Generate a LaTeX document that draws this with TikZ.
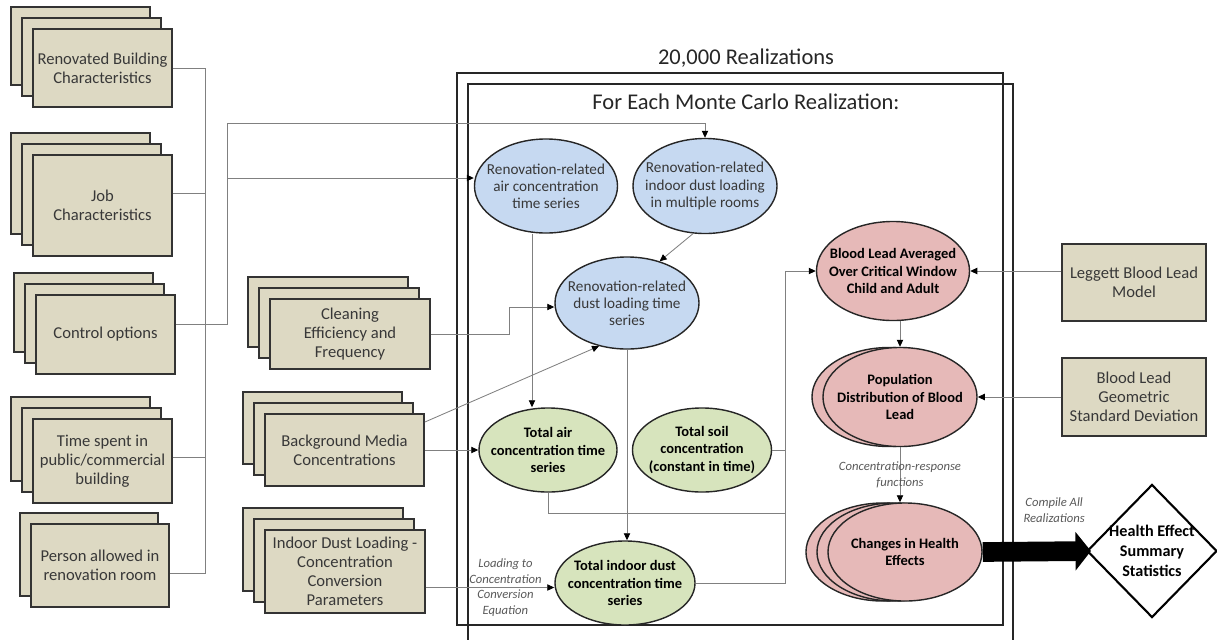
\documentclass[tikz,border=0pt]{standalone}
\usepackage{fontspec}
\setmainfont{Carlito}
\usetikzlibrary{arrows.meta, positioning, shapes.geometric, shadows}

\definecolor{boxTan}{RGB}{221,217,195}
\definecolor{renBlue}{RGB}{198,217,241}
\definecolor{totGreen}{RGB}{215,228,189}
\definecolor{bloodPink}{RGB}{230,185,184}
\definecolor{textGray}{RGB}{56,56,56}

\begin{document}
\begin{tikzpicture}[
    x=0.025cm, y=-0.025cm,
    % Input boxes: tan fill, dark outline
    inputBox/.style={
        draw=black!80, line width=1pt,
        fill=boxTan, text=textGray,
        align=center, inner sep=2pt,
        font=\fontsize{11.8}{13.6}\selectfont
    },
    % Stacked copies behind a box (up and to the left)
    boxStack3/.style={double copy shadow={shadow xshift=-0.275cm, shadow yshift=0.275cm}},
    boxStack2/.style={copy shadow={shadow xshift=-0.275cm, shadow yshift=0.275cm}},
    ovalStack2/.style={copy shadow={shadow xshift=-0.275cm, shadow yshift=0cm}},
    ovalStack3/.style={double copy shadow={shadow xshift=-0.275cm, shadow yshift=0cm}},
    % Ellipses inside the realization frame
    stepOval/.style={
        ellipse, draw=black!85, line width=1pt,
        align=center, inner xsep=-0.4cm, inner ysep=0pt
    },
    renOval/.style={stepOval, fill=renBlue, text=textGray,
        font=\fontsize{10.8}{12.2}\selectfont},
    totOval/.style={stepOval, fill=totGreen,
        font=\fontsize{10.3}{12.4}\selectfont\bfseries},
    bloodOval/.style={stepOval, fill=bloodPink,
        font=\fontsize{10.3}{12.4}\selectfont\bfseries},
    % Plain italic labels on connectors
    noteStyle/.style={
        align=center, text=black!65,
        font=\fontsize{9}{11}\selectfont\itshape
    },
    titleStyle/.style={text=black!85, font=\fontsize{16}{19}\selectfont},
    frameStyle/.style={draw=black!85, line width=1.2pt},
    % Connectors: thin gray lines, small black heads
    link/.style={draw=black!50, line width=0.6pt},
    arr/.style={link, -{Triangle[length=5pt,width=4.5pt,color=black]}},
    bigArrow/.style={draw=black, line width=14pt,
        -{Triangle[length=11pt,width=27pt]}}
]
\useasboundingbox (0,0) rectangle (1217,639);

%--- Realization frames ---
\draw[frameStyle] (457,73) rectangle (1003,625);
\draw[frameStyle] (468,640) |- (1013,84) -- (1013,640);
\node[titleStyle] (allRuns) at (746,58)  {20,000 Realizations};
\node[titleStyle] (oneRun)  at (746,102) {For Each Monte Carlo Realization:};

%--- Left column of inputs ---
\node[inputBox, boxStack3, minimum width=3.475cm, minimum height=1.95cm]
    (renov) at (102.5,68) {Renovated Building\\Characteristics};
\node[inputBox, boxStack3, minimum width=3.475cm, minimum height=2.525cm]
    (job) at (102.5,205.5) {Job\\Characteristics};
\node[inputBox, boxStack3, minimum width=3.475cm, minimum height=1.975cm]
    (control) at (105.5,334.5) {Control options};
\node[inputBox, boxStack3, minimum width=3.475cm, minimum height=2.1cm]
    (timespent) at (102.5,461) {Time spent in\\public/commercial\\building};
\node[inputBox, boxStack2, minimum width=3.45cm, minimum height=2.075cm]
    (person) at (100,565.5) {Person allowed in\\renovation room};

%--- Middle column of inputs ---
\node[inputBox, boxStack3, minimum width=4cm, minimum height=1.75cm]
    (cleaning) at (350,334) {Cleaning\\Efficiency and\\Frequency};
\node[inputBox, boxStack3, minimum width=3.975cm, minimum height=1.8cm]
    (background) at (344.5,450) {Background Media\\Concentrations};
\node[inputBox, boxStack3, minimum width=4cm, minimum height=2.075cm]
    (dustconv) at (345,571.5) {Indoor Dust Loading -\\Concentration\\Conversion\\Parameters};

%--- Right column of inputs ---
\node[inputBox, minimum width=3.6cm, minimum height=1.925cm]
    (leggett) at (1134,282.5) {Leggett Blood Lead\\Model};
\node[inputBox, minimum width=3.6cm, minimum height=1.95cm]
    (gsd) at (1134,397) {Blood Lead\\Geometric\\Standard Deviation};

%--- Renovation-related series ---
\node[renOval, minimum width=3.575cm, minimum height=2.35cm]
    (renair) at (546,186) {Renovation-related\\air concentration\\time series};
\node[renOval, minimum width=3.6cm, minimum height=2.375cm]
    (rendust) at (705,186) {Renovation-related\\indoor dust loading\\in multiple rooms};
\node[renOval, minimum width=3.6cm, minimum height=2.3cm]
    (dustts) at (627,303) {Renovation-related\\dust loading time\\series};

%--- Totals ---
\node[totOval, minimum width=3.45cm, minimum height=2.1cm]
    (totair) at (548,450) {Total air\\concentration time\\series};
\node[totOval, minimum width=3.475cm, minimum height=2.1cm]
    (totsoil) at (702,450) {Total soil\\concentration\\(constant in time)};
\node[totOval, minimum width=3.5cm, minimum height=2.1cm]
    (totdust) at (625,583) {Total indoor dust\\concentration time\\series};

%--- Blood lead and health ---
\node[bloodOval, minimum width=3.825cm, minimum height=2.475cm]
    (bloodavg) at (893,271) {Blood Lead Averaged\\Over Critical Window\\Child and Adult};
\node[bloodOval, ovalStack2, minimum width=3.85cm, minimum height=2.475cm]
    (popdist) at (900,397) {Population\\Distribution of Blood\\Lead};
\node[bloodOval, ovalStack3, minimum width=3.85cm, minimum height=2.45cm]
    (health) at (905,552) {Changes in Health\\Effects};

%--- Output ---
\node[diamond, draw=black, line width=1.5pt, fill=white, align=center,
      inner sep=-0.15cm, minimum width=3.25cm, minimum height=3.325cm,
      font=\fontsize{11.5}{14}\selectfont\bfseries]
    (summary) at (1152,551) {Health Effect\\Summary\\Statistics};

%-----------------------
%        Edges
%-----------------------
% (1) Left inputs -> common bus
\coordinate (lbus) at (205,68);
\draw[link] (renov.east) -- (lbus) |- ([yshift=-0.21cm]person.east);
\draw[link] ([yshift=0.31cm]job.east) -- ([yshift=0.31cm]job.east -| lbus);
\draw[link] ([yshift=0.1cm]timespent.east) -- ([yshift=0.1cm]timespent.east -| lbus);

% (2) Control options + bus -> renovation-related series
\coordinate (rbus) at (227,123);
\coordinate (renairIn) at ([yshift=0.2cm]renair.west);
\draw[link] ([yshift=0.24cm]control.east) -| (rbus);
\draw[arr] (rbus) -| (rendust.north);
\draw[arr] (rbus |- renairIn) -- (renairIn);

% (3) Cleaning -> dust loading time series
\draw[arr] (cleaning.east) -- ++(79,0) |- ([yshift=-0.1cm]dustts.west);

% (4) Indoor dust loading -> dust loading time series
\draw[arr] (rendust.256) -- (dustts.52);

% (5) Air concentration -> total air
\draw[arr] ([xshift=-0.35cm]renair.south) -- ([xshift=-0.35cm]renair.south |- totair.north);

% (6) Background media -> dust loading and total air
\draw[arr] ([yshift=-0.22cm]background.north east) -- (dustts.237);
\draw[arr] (background.east) -- (totair.west);

% (7) Dust loading time series -> total indoor dust
\draw[arr] (dustts.south) -- (dustts.south |- totdust.north);

% (8) Conversion parameters -> total indoor dust
\coordinate (convOut) at ([yshift=-0.4cm]dustconv.east);
\draw[arr] (convOut) -- (convOut -| totdust.west)
    node[noteStyle, pos=0.62] {Loading to\\Concentration\\Conversion\\Equation};

% (9) Totals -> blood lead averaged
\coordinate (tbus) at (785,271);
\draw[arr] (totdust.east) -| (tbus) -- (bloodavg.west);
\draw[link] (totsoil.east) -- (totsoil.east -| tbus);
\draw[link] (totair.south) -- ++(0,21) -| (tbus);

% (10) Leggett model, GSD -> blood lead ovals
\draw[arr] (bloodavg.east -| leggett.west) -- (bloodavg.east);
\draw[arr] (gsd.west) -- (popdist.east);

% (11) Blood lead chain
\draw[arr] (popdist.north |- bloodavg.south) -- (popdist.north);
\draw[arr] (popdist.south) -- (popdist.south |- health.north)
    node[noteStyle, midway] {Concentration-response\\functions};

% (12) Health effects -> summary
\draw[bigArrow] (health.east) -- ([xshift=0.125cm]summary.west)
    node[noteStyle, pos=0.66, above=0.36cm] {Compile All\\Realizations};
\end{tikzpicture}
\end{document}
